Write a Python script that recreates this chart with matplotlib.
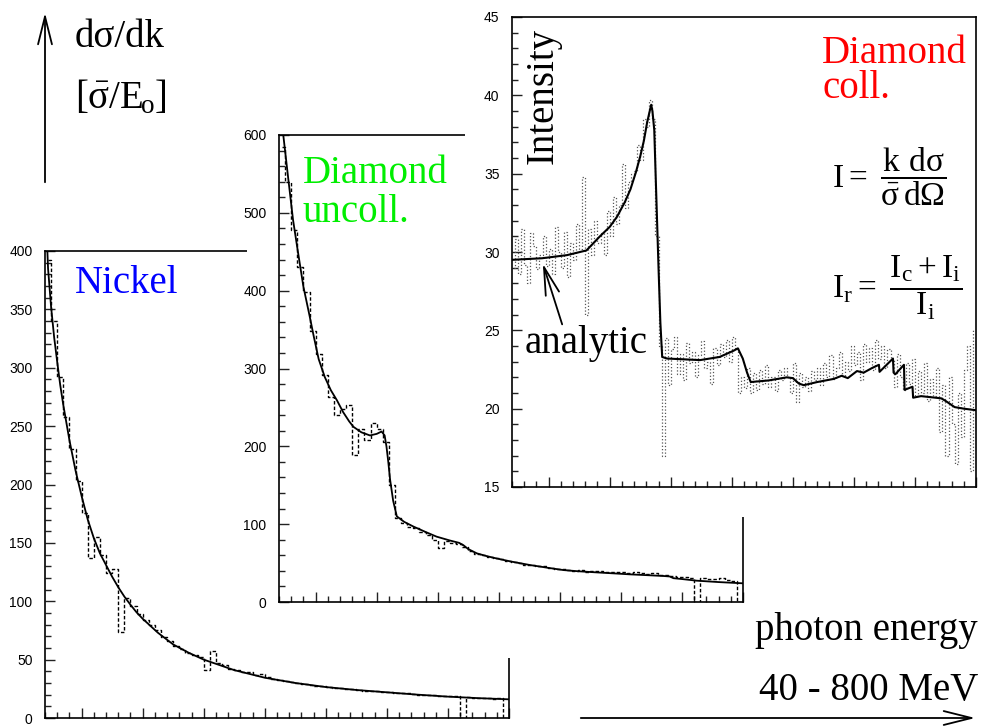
import numpy as np
import matplotlib
matplotlib.use("Agg")
import matplotlib.pyplot as plt
from matplotlib.patches import Rectangle, FancyArrowPatch
from matplotlib.ticker import MultipleLocator, NullFormatter

plt.rcParams['font.family'] = 'Liberation Sans'
plt.rcParams['mathtext.fontset'] = 'custom'
plt.rcParams['mathtext.rm'] = 'Liberation Serif'
plt.rcParams['mathtext.it'] = 'Liberation Serif'
plt.rcParams['mathtext.bf'] = 'Liberation Serif:bold'
plt.rcParams['mathtext.default'] = 'rm'

SERIF = 'Liberation Serif'
W, H = 983, 726

# photon energy range, MeV
E_MIN, E_MAX = 40, 800

# ---- Nickel: analytic curve and measured spectrum (10 MeV bins) ----
ni_fit_e = [42, 45, 50, 55, 60, 65, 70, 80, 90, 100,
            110, 120, 130, 140, 150, 160, 170, 180, 190, 200,
            225, 250, 275, 300, 350, 400, 450, 500, 550, 600,
            650, 700, 750, 800]
ni_fit_v = [425, 385, 352, 326, 305, 285, 268, 238, 212, 190,
            170, 154, 141, 131, 121, 112, 104, 97, 90.5, 85,
            73, 63, 56, 50, 41, 34.5, 30, 26.5, 24, 22,
            20, 18.3, 17, 16]
ni_bins = np.arange(45, 800, 10)
ni_data = [392, 340, 292, 258, 230, 203, 176, 137, 155, 140,
           124, 128, 74, 103, 96, 89, 84, 80, 75, 69,
           66, 62, 59, 56, 54, 52, 41, 57, 47, 45,
           42, 41, 39, 39, 37, 38, 35, 33, 32.5, 31.5,
           30.5, 30, 29, 28.5, 27.5, 27, 26.5, 26, 25.5, 25,
           24.5, 24, 23.5, 23, 23, 22.5, 22, 21.5, 21, 21,
           20.5, 20, 20, 19.5, 19, 19, 18.5, 18.5, 0, 18,
           17.5, 17.5, 17, 16.5, 17, 0]

# ---- Diamond, uncollimated ----
un_fit_e = [44, 47, 55, 63, 70, 80, 90, 97, 105, 115,
            125, 135, 145, 155, 162, 175, 189, 200, 208, 213,
            216, 219, 222, 227, 233, 245, 260, 280, 298, 320,
            335, 342, 350, 364, 380, 396, 420, 451, 480, 506,
            530, 561, 590, 615, 650, 670, 680, 686, 700, 724,
            760, 800]
un_fit_v = [625, 600, 545, 491, 455, 405, 368, 341, 312, 289,
            272, 259, 244, 232, 225, 218, 214, 216, 219, 214,
            200, 180, 157, 130, 110, 103, 97, 90, 84, 79,
            76, 73, 68, 62.5, 59, 56, 52, 47.5, 44, 41,
            39.5, 38, 36.7, 35.5, 34.2, 33.4, 32.8, 30.6, 29.5, 27.4,
            25.6, 24]
un_bins = np.arange(45, 800, 10)
un_data = [585, 540, 478, 430, 398, 348, 318, 292, 264, 240,
           248, 253, 189, 222, 208, 230, 222, 205, 150, 108,
           102, 97, 95, 90, 86, 80, 69, 79, 76, 75,
           71, 65, 62, 60, 58, 57, 55, 53, 52, 50,
           48, 47, 46, 46, 44, 43, 42, 41, 40, 41,
           39, 40, 39.5, 39, 38.5, 39, 38, 37.5, 38.5, 37,
           36.5, 37, 35, 34.5, 33, 31.5, 32, 30.5, 0, 31,
           30, 29.5, 30.5, 28, 27, 0]

# ---- Diamond, collimated: intensity ratio ----
co_fit_e = [40, 89, 130, 162, 184, 200, 212, 225, 234, 243,
            250, 256, 261, 265, 268, 270, 273, 276, 280, 283,
            286, 294, 348, 380, 403, 410, 418, 425, 431, 460,
            490, 500, 510, 518, 540, 567, 580, 590, 605, 616,
            630, 641, 642, 664, 665, 668, 682, 683, 696, 697,
            710, 743, 750, 765, 780, 800]
co_fit_v = [29.5, 29.6, 29.8, 30.1, 31.0, 31.6, 32.25, 33.2, 34.0, 35.1,
            36.1, 37.1, 38.2, 38.9, 39.4, 39.0, 37.8, 34.0, 29.0, 25.5,
            23.3, 23.2, 23.1, 23.3, 23.7, 23.85, 23.2, 22.3, 21.7, 21.8,
            22.0, 21.95, 21.6, 21.5, 21.7, 21.9, 22.1, 21.95, 22.4, 22.3,
            22.6, 22.8, 22.35, 23.2, 22.3, 22.2, 22.8, 21.2, 21.4, 20.7,
            20.8, 20.66, 20.5, 20.1, 20.0, 19.9]
co_bins = np.arange(42.5, 800, 5)
co_data = [29.0, 30.8, 28.6, 31.5, 29.2, 28.0, 31.2, 30.4, 28.9, 29.8,
           31.0, 29.1, 30.2, 28.6, 31.6, 30.0, 29.0, 31.3, 28.4, 30.6,
           29.5, 31.8, 30.2, 34.8, 26.0, 31.5, 29.8, 32.0, 30.6, 31.2,
           29.8, 32.6, 31.0, 33.5, 31.8, 33.0, 35.6, 32.8, 34.5, 35.0,
           35.2, 36.8, 35.9, 38.5, 38.0, 39.7, 38.5, 31.0, 24.0, 17.0,
           24.5, 21.5, 23.8, 24.6, 22.2, 23.5, 21.8, 24.2, 22.9, 23.6,
           22.0, 23.4, 24.3, 22.6, 23.0, 21.6, 23.9, 22.8, 24.1, 23.3,
           24.4, 23.0, 24.6, 23.9, 21.0, 22.0, 21.3, 22.6, 21.0, 22.3,
           21.2, 22.5, 21.6, 22.8, 21.4, 22.0, 21.1, 22.5, 21.8, 22.6,
           22.0, 21.0, 22.9, 20.4, 22.3, 21.4, 22.0, 21.1, 22.4, 21.8,
           22.6, 21.5, 22.9, 22.0, 23.4, 21.9, 22.6, 23.6, 22.1, 23.0,
           22.4, 24.0, 22.8, 23.6, 21.8, 24.1, 23.0, 23.9, 22.5, 24.4,
           23.2, 24.0, 22.6, 23.8, 23.1, 21.4, 23.5, 22.0, 21.2, 22.9,
           21.6, 23.2, 20.8, 22.4, 21.0, 22.9, 20.5, 21.9, 20.8, 22.6,
           18.5, 21.5, 17.0, 22.0, 19.0, 16.5, 21.0, 18.2, 22.5, 24.0,
           16.0, 25.0]


def fx(px):
    return px / W


def fy(py):
    return 1 - py / H


def make_panel(fig, left, top, bottom, ylim, ymajor, yminor, z):
    ax = fig.add_axes([fx(left), fy(bottom), 464 / W, (bottom - top) / H])
    ax.set_zorder(z)
    ax.set_xlim(E_MIN, E_MAX)
    ax.set_ylim(*ylim)
    ax.xaxis.set_major_locator(MultipleLocator(100))
    ax.xaxis.set_minor_locator(MultipleLocator(20))
    ax.yaxis.set_major_locator(MultipleLocator(ymajor))
    ax.yaxis.set_minor_locator(MultipleLocator(yminor))
    ax.xaxis.set_major_formatter(NullFormatter())
    ax.tick_params(which='both', direction='in', top=False, right=False,
                   color='#222222', width=1)
    ax.tick_params(which='major', length=7)
    ax.tick_params(which='minor', length=4)
    ax.tick_params(axis='y', pad=9, labelsize=10)
    for s in ax.spines.values():
        s.set_linewidth(1.2)
    return ax


def white_block(fig, x0, y0, x1, y1, z):
    fig.add_artist(Rectangle((fx(x0), fy(y1)), (x1 - x0) / W, (y1 - y0) / H,
                             transform=fig.transFigure, facecolor='white',
                             edgecolor='none', zorder=z))


def arrow(fig, p0, p1, **kw):
    fig.add_artist(FancyArrowPatch((fx(p0[0]), fy(p0[1])), (fx(p1[0]), fy(p1[1])),
                                   transform=fig.transFigure,
                                   arrowstyle='->,head_length=1.0,head_width=0.25',
                                   mutation_scale=20, color='black', zorder=20, **kw))


fig = plt.figure(figsize=(W / 100, H / 100), dpi=100)

# nickel panel (back)
ax_ni = make_panel(fig, 45, 251, 718, (0, 400), 50, 10, 1)
ax_ni.plot(ni_fit_e, ni_fit_v, color='black', lw=1.3)
ax_ni.step(ni_bins, ni_data, where='mid', color='black', lw=1.0, ls=(0, (2.5, 1.5)))

white_block(fig, 247, 120, W, 658, 2)

# uncollimated diamond panel (middle)
ax_un = make_panel(fig, 279, 135, 602, (0, 600), 100, 20, 3)
ax_un.plot(un_fit_e, un_fit_v, color='black', lw=1.3)
ax_un.step(un_bins, un_data, where='mid', color='black', lw=1.0, ls=(0, (2.5, 1.5)))

white_block(fig, 465, 0, W, 517, 4)

# collimated diamond panel (front)
ax_co = make_panel(fig, 512, 17, 487, (15, 45), 5, 1, 5)
ax_co.step(co_bins, co_data, where='mid', color='#555555', lw=0.9, ls=':')
ax_co.plot(co_fit_e, co_fit_v, color='black', lw=1.5)

# labels
big = dict(family=SERIF, fontsize=28, zorder=10)
fig.text(fx(75), fy(47), 'dσ/dk', va='baseline', **big)
fig.text(fx(75), fy(108), r'$[\bar{\sigma}/E_{\!o}]$', va='baseline', **big)
fig.text(fx(75), fy(293), 'Nickel', color='#0000ff', va='baseline', **big)
fig.text(fx(303), fy(183), 'Diamond', color='#00ee00', va='baseline', **big)
fig.text(fx(303), fy(222), 'uncoll.', color='#00ee00', va='baseline', **big)
fig.text(fx(822), fy(63), 'Diamond', color='#ff0000', va='baseline', **big)
fig.text(fx(822), fy(98), 'coll.', color='#ff0000', va='baseline', **big)
fig.text(fx(543), fy(96), 'Intensity', rotation=90, ha='center', va='center', **big)
fig.text(fx(525), fy(353), 'analytic', va='baseline', **big)
fig.text(fx(978), fy(640), 'photon energy', ha='right', va='baseline', **big)
fig.text(fx(978), fy(700), '40 - 800 MeV', ha='right', va='baseline', **big)

form = dict(fontsize=24, zorder=10, va='center')
fig.text(fx(832), fy(177), r'$I = \ \dfrac{k\ d\sigma}{\bar{\sigma}\,d\Omega}$', **form)
fig.text(fx(832), fy(288), r'$I_r = \ \dfrac{I_c + I_i}{I_i}$', **form)

# axis arrows and pointer
arrow(fig, (45, 185), (45, 10), lw=1.3)
arrow(fig, (578, 718), (978, 718), lw=1.3)
arrow(fig, (563, 327), (542, 261), lw=1.3)

fig.savefig('out.png', dpi=100)
